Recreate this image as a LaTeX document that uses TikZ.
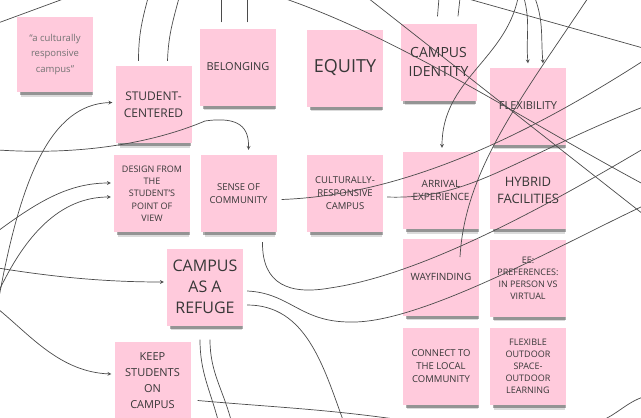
\documentclass[tikz,border=0pt]{standalone}
\usepackage{fontspec}
\setmainfont{Open Sans}
\usepackage{tikz}
\usetikzlibrary{positioning,shadows}

\definecolor{notepink}{RGB}{255,202,220}
\definecolor{notetext}{RGB}{55,55,55}
\definecolor{linkgray}{RGB}{75,75,75}

\newcommand{\fsz}[2]{\fontsize{#1}{#2}\selectfont}

\tikzset{
  notebox/.style={fill=notepink, minimum width=76pt, minimum height=77pt,
    inner sep=2pt, align=center, text=notetext,
    general shadow={fill=black, opacity=.14, shadow xshift=1.5pt, shadow yshift=-8pt, shadow scale=.93},
    general shadow={fill=black, opacity=.32, shadow xshift=1.5pt, shadow yshift=-5pt, shadow scale=.96}},
  link/.style={draw=linkgray, line width=0.7pt},
  >=stealth
}

\begin{document}
\begin{tikzpicture}[x=1pt, y=-1pt]
    \useasboundingbox (0,0) rectangle (641,418);
    \fill[white] (0,0) rectangle (641,418);

    % Notes - left columns
    \node[notebox, minimum height=75pt, text=black!55, font=\fsz{9.5}{15.5}] (quote) at (55,54.5) {“a culturally\\responsive\\campus”};
    \node[notebox, font=\fsz{12}{17}] (stu) at (153.5,104.5) {STUDENT-\\CENTERED};
    \node[notebox, font=\fsz{9}{12.3}] (dsn) at (152,193.5) {DESIGN FROM\\THE\\STUDENT'S\\POINT OF\\VIEW};
    \node[notebox, font=\fsz{11}{16}] (keep) at (152.5,380.5) {KEEP\\STUDENTS\\ON\\CAMPUS};
    \node[notebox, font=\fsz{11}{14}, text depth=-6pt] (bel) at (238,67) {BELONGING};
    \node[notebox, font=\fsz{9.5}{13.5}] (soc) at (238.5,193.5) {SENSE OF\\COMMUNITY};
    \node[notebox, font=\fsz{16}{21}] (ref) at (205,287) {CAMPUS\\AS A\\REFUGE};

    % Notes - middle columns
    \node[notebox, font=\fsz{18}{22}] (equ) at (345,68) {EQUITY};
    \node[notebox, font=\fsz{9.5}{13}] (crc) at (345,193.5) {CULTURALLY-\\RESPONSIVE\\CAMPUS};
    \node[notebox, font=\fsz{14}{19}] (cid) at (438.5,62) {CAMPUS\\IDENTITY};
    \node[notebox, font=\fsz{10}{13}] (arr) at (441,190.5) {ARRIVAL\\EXPERIENCE};
    \node[notebox, font=\fsz{10}{13}] (way) at (441,277) {WAYFINDING};
    \node[notebox, font=\fsz{9.5}{13}] (lcl) at (441,366) {CONNECT TO\\THE LOCAL\\COMMUNITY};

    % Notes - right column
    \node[notebox, font=\fsz{11}{14}] (flx) at (528,106) {FLEXIBILITY};
    \node[notebox, font=\fsz{13}{17}] (hyb) at (528,190.5) {HYBRID\\FACILITIES};
    \node[notebox, font=\fsz{9}{12}] (pref) at (528,278) {EE:\\PREFERENCES:\\IN PERSON VS\\VIRTUAL};
    \node[notebox, font=\fsz{9}{12}] (out) at (528,366.5) {FLEXIBLE\\OUTDOOR\\SPACE-\\OUTDOOR\\LEARNING};

    % Free ends at the edges
    \coordinate (tl1) at (-2,23);
    \coordinate (tl2) at (66,-2);
    \coordinate (top1) at (148,-2);
    \coordinate (top2) at (179,-2);
    \coordinate (top3) at (221,-2);
    \coordinate (top4) at (247,-2);
    \coordinate (top5) at (283,-2);
    \coordinate (top6) at (368,-2);
    \coordinate (top7) at (439,-2);
    \coordinate (top8) at (460,-2);
    \coordinate (top9) at (465,-2);
    \coordinate (top10) at (518,-2);
    \coordinate (top11) at (524,-2);
    \coordinate (top12) at (535,-2);
    \coordinate (top13) at (588,-2);
    \coordinate (rt1) at (643,48);
    \coordinate (rt2) at (643,61);
    \coordinate (rt3) at (643,107);
    \coordinate (rt4) at (643,149);
    \coordinate (rt5) at (643,184);
    \coordinate (rt6) at (643,206);
    \coordinate (rt7) at (643,214);
    \coordinate (rt8) at (643,397);
    \coordinate (lf1) at (-2,150);
    \coordinate (lf2) at (-2,231);
    \coordinate (lf3) at (-2,268);
    \coordinate (lf4) at (-2,293);
    \coordinate (lf5) at (-2,303);
    \coordinate (lf6) at (-2,309);
    \coordinate (bt1) at (218,420);
    \coordinate (bt2) at (231,420);
    \coordinate (bt3) at (343,420);
    \coordinate (bt4) at (402,420);
    \coordinate (bt5) at (603,420);

    % Lines to the top edge
    \draw[link] (tl1) -- (tl2);
    \draw[link] ([shift={(-15,-5)}]stu.north) to[out=90,in=255] (top1);
    \draw[link] ([shift={(14,-5)}]stu.north) to[out=88,in=255] (top2);
    \draw[link] ([shift={(-17,-6)}]bel.north) -- (top3);
    \draw[link] ([shift={(9,-6)}]bel.north) -- (top4);
    \draw[link] ([shift={(-1,-7)}]cid.north) -- (top7);
    \draw[link] ([shift={(19.5,-7)}]cid.north) -- (top8);

    % Long lines across the right half
    \draw[link] (top5) .. controls (400,38) and (520,118) .. (rt5);
    \draw[link] (top6) -- (rt7);
    \draw[link] (top9) -- (rt1);
    \draw[link, ->] (top10) .. controls (505,60) and (442,80) .. ([shift={(1,-4)}]arr.north);
    \draw[link, ->] (top11) to[out=-75,in=95] ([shift={(0,-4)}]flx.north);
    \draw[link, ->] (top12) to[out=-70,in=95] ([shift={(15,-4)}]flx.north);
    \draw[link] (top13) .. controls (520,100) and (465,170) .. ([shift={(19,-20)}]way.center);
    \draw[link] ([shift={(5,6)}]soc.east) .. controls (400,195) and (520,140) .. (rt2);
    \draw[link] ([shift={(4,3.5)}]crc.east) .. controls (470,200) and (510,160) .. (rt3);

    % Arrows from the left edge
    \draw[link, ->] (lf1) .. controls (90,156) and (160,140) .. (205,121) .. controls (240,116) and (249,128) .. ([shift={(10,-5)}]soc.north);
    \draw[link, ->] (lf5) .. controls (20,180) and (50,104) .. ([shift={(-3,-2)}]stu.west);
    \draw[link, ->] (lf2) .. controls (40,200) and (70,183) .. ([shift={(-3,-10.5)}]dsn.west);
    \draw[link, ->] (lf4) .. controls (25,235) and (60,197) .. ([shift={(-3,3.5)}]dsn.west);
    \draw[link, ->] (lf3) .. controls (60,278) and (110,282) .. ([shift={(-3,-5)}]ref.west);
    \draw[link, ->] (lf6) .. controls (30,335) and (60,372) .. ([shift={(-3,-6.5)}]keep.west);

    % Lines from the refuge and community notes
    \draw[link] ([shift={(24,10)}]soc.south) .. controls (262,285) and (290,295) .. (330,288) .. controls (420,275) and (540,210) .. (rt4);
    \draw[link] ([shift={(4,4)}]ref.east) .. controls (290,293) and (300,322) .. (350,322) .. controls (420,324) and (560,245) .. (rt6);
    \draw[link] ([shift={(4,18)}]ref.east) to[out=0,in=110] (bt3);
    \draw[link] ([shift={(-5,14)}]ref.south) to[out=-90,in=105] (bt1);
    \draw[link] ([shift={(5,14)}]ref.south) to[out=-90,in=105] (bt2);
    \draw[link] ([shift={(7,20)}]keep.east) to[out=-5,in=172] (bt4);
    \draw[link] (bt5) to[out=25,in=200] (rt8);
\end{tikzpicture}
\end{document}
